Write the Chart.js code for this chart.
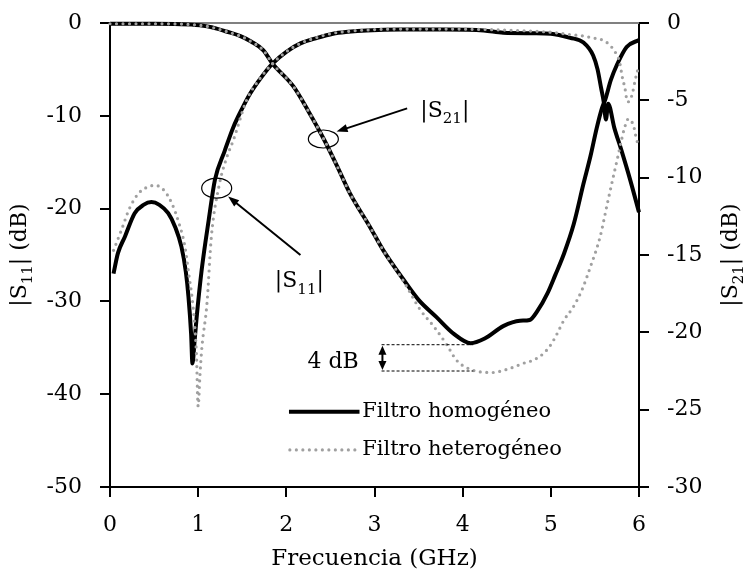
<!DOCTYPE html>
<html>
<head>
<meta charset="utf-8">
<script src="https://cdn.jsdelivr.net/npm/chart.js@4.4.1/dist/chart.umd.min.js"></script>
<style>
  html, body { margin: 0; padding: 0; background: #fff; }
</style>
</head>
<body>
<canvas id="chart" width="745" height="573"></canvas>
<script>
// |S11| filtro homogéneo (eje izquierdo, dB)
const s11HomFreq = [0.04, 0.09, 0.17, 0.28, 0.38, 0.47, 0.56, 0.66, 0.74, 0.81, 0.86, 0.89, 0.92, 0.935, 0.96, 0.98, 1.04, 1.12, 1.19, 1.30, 1.40, 1.50, 1.59, 1.72, 1.84, 2.00, 2.16, 2.35, 2.53, 2.70, 2.91, 3.30, 3.80, 4.24, 4.46, 4.80, 5.00, 5.22, 5.37, 5.48, 5.53, 5.57, 5.60, 5.625, 5.65, 5.72, 5.80, 5.90, 6.00];
const s11HomDb = [-27.0, -24.8, -23.0, -20.5, -19.6, -19.3, -19.6, -20.5, -22.0, -24.1, -26.8, -29.5, -33.5, -36.7, -34.2, -32.0, -26.6, -21.2, -16.9, -13.8, -11.2, -9.2, -7.6, -5.8, -4.4, -3.1, -2.2, -1.6, -1.15, -0.95, -0.8, -0.7, -0.7, -0.8, -1.05, -1.1, -1.15, -1.6, -2.1, -3.5, -5.0, -7.0, -8.5, -10.4, -8.7, -11.3, -13.7, -16.9, -20.4];

// |S11| filtro heterogéneo (eje izquierdo, dB)
const s11HetFreq = [0.04, 0.13, 0.22, 0.32, 0.42, 0.51, 0.60, 0.70, 0.78, 0.85, 0.90, 0.93, 0.96, 0.98, 1.00, 1.02, 1.04, 1.10, 1.15, 1.24, 1.32, 1.40, 1.55, 1.70, 1.84, 2.00, 2.16, 2.35, 2.53, 2.70, 2.91, 3.30, 3.80, 4.24, 4.60, 5.00, 5.22, 5.37, 5.47, 5.56, 5.62, 5.69, 5.74, 5.78, 5.81, 5.84, 5.87, 5.90, 5.93, 5.96, 6.00];
const s11HetDb = [-24.5, -22.3, -20.0, -18.4, -17.7, -17.5, -17.9, -19.4, -21.5, -24.1, -27.5, -29.5, -32.5, -35.6, -41.3, -38.0, -35.2, -30.2, -23.0, -17.4, -14.6, -12.6, -8.3, -6.0, -4.4, -3.1, -2.2, -1.55, -1.1, -0.9, -0.75, -0.65, -0.65, -0.7, -0.8, -1.0, -1.25, -1.4, -1.6, -1.75, -2.0, -2.6, -3.3, -4.2, -5.8, -7.0, -8.5, -8.3, -7.4, -6.0, -4.6];

// |S21| filtro homogéneo (eje derecho, dB)
const s21HomFreq = [0.00, 0.50, 1.02, 1.21, 1.32, 1.48, 1.60, 1.74, 1.84, 2.08, 2.25, 2.42, 2.58, 2.72, 2.95, 3.10, 3.33, 3.50, 3.70, 3.90, 4.09, 4.25, 4.46, 4.65, 4.76, 4.85, 4.96, 5.05, 5.15, 5.26, 5.37, 5.45, 5.52, 5.58, 5.62, 5.68, 5.75, 5.86, 6.00];
const s21HomDb = [-0.05, -0.05, -0.15, -0.36, -0.55, -0.85, -1.2, -1.77, -2.6, -4.1, -5.7, -7.45, -9.3, -11.0, -13.2, -14.7, -16.6, -17.9, -19.0, -20.1, -20.7, -20.4, -19.6, -19.25, -19.2, -18.6, -17.5, -16.3, -14.9, -13.0, -10.4, -8.6, -6.8, -5.5, -4.9, -3.7, -2.7, -1.55, -1.1];

// |S21| filtro heterogéneo (eje derecho, dB)
const s21HetFreq = [0.00, 0.50, 1.02, 1.21, 1.32, 1.48, 1.60, 1.74, 1.84, 2.08, 2.25, 2.42, 2.58, 2.72, 2.95, 3.10, 3.33, 3.52, 3.67, 3.82, 3.93, 4.09, 4.33, 4.50, 4.69, 4.80, 4.92, 5.00, 5.07, 5.15, 5.25, 5.35, 5.45, 5.56, 5.64, 5.71, 5.76, 5.80, 5.84, 5.88, 5.92, 5.95, 5.97, 6.00];
const s21HetDb = [-0.05, -0.05, -0.15, -0.36, -0.55, -0.85, -1.2, -1.77, -2.6, -4.1, -5.7, -7.45, -9.3, -11.0, -13.2, -14.7, -16.7, -18.55, -19.6, -20.8, -21.8, -22.4, -22.6, -22.4, -22.0, -21.8, -21.35, -20.8, -20.1, -19.2, -18.4, -17.3, -15.75, -13.8, -11.7, -9.9, -8.65, -7.6, -6.7, -6.2, -6.4, -6.9, -7.5, -7.9];

const xTicks = [0, 1, 2, 3, 4, 5, 6];
const legendLabels = ["Filtro homogéneo", "Filtro heterogéneo"];

const FONT = '"DejaVu Serif", serif';
const GRAY = "#a0a0a0";

function toPoints(xs, ys) {
    return xs.map((x, i) => ({ x: x, y: ys[i] }));
}

// text with subscript pieces, e.g. |S + 21 + |
function drawParts(ctx, x, y, parts, size, align) {
    const subSize = Math.round(size * 0.68);
    const widths = parts.map(p => {
        ctx.font = (p.sub ? subSize : size) + "px " + FONT;
        return ctx.measureText(p.t).width;
    });
    const total = widths.reduce((a, b) => a + b, 0);
    let cx = align === "center" ? x - total / 2 : align === "right" ? x - total : x;
    ctx.textAlign = "left";
    ctx.textBaseline = "alphabetic";
    parts.forEach((p, i) => {
        ctx.font = (p.sub ? subSize : size) + "px " + FONT;
        ctx.fillText(p.t, cx, p.sub ? y + size * 0.28 : y);
        cx += widths[i];
    });
}

function arrowHead(ctx, x0, y0, x1, y1, len, half) {
    const a = Math.atan2(y1 - y0, x1 - x0);
    ctx.beginPath();
    ctx.moveTo(x1, y1);
    ctx.lineTo(x1 - len * Math.cos(a) + half * Math.sin(a), y1 - len * Math.sin(a) - half * Math.cos(a));
    ctx.lineTo(x1 - len * Math.cos(a) - half * Math.sin(a), y1 - len * Math.sin(a) + half * Math.cos(a));
    ctx.closePath();
    ctx.fill();
}

function arrow(ctx, x0, y0, x1, y1) {
    const a = Math.atan2(y1 - y0, x1 - x0);
    ctx.beginPath();
    ctx.moveTo(x0, y0);
    ctx.lineTo(x1 - 8 * Math.cos(a), y1 - 8 * Math.sin(a));
    ctx.stroke();
    arrowHead(ctx, x0, y0, x1, y1, 11, 4);
}

const annotationsPlugin = {
    id: "annotations",
    beforeDatasetsDraw(chart) {
        const { ctx, chartArea: a } = chart;
        ctx.save();
        ctx.strokeStyle = "#808080";
        ctx.lineWidth = 2;
        ctx.beginPath();
        ctx.moveTo(a.left, a.top);
        ctx.lineTo(a.right, a.top);
        ctx.stroke();
        ctx.restore();
    },
    afterDraw(chart) {
        const { ctx, chartArea: a } = chart;
        const px = v => chart.scales.x.getPixelForValue(v);
        const pl = v => chart.scales.y.getPixelForValue(v);
        const pr = v => chart.scales.y1.getPixelForValue(v);
        ctx.save();
        ctx.fillStyle = "#000";
        ctx.strokeStyle = "#000";

        // axis titles
        const midY = (a.top + a.bottom) / 2;
        ctx.save();
        ctx.translate(26, midY);
        ctx.rotate(-Math.PI / 2);
        drawParts(ctx, 0, 0, [{ t: "|S" }, { t: "11", sub: true }, { t: "| (dB)" }], 22, "center");
        ctx.restore();
        ctx.save();
        ctx.translate(737, midY);
        ctx.rotate(-Math.PI / 2);
        drawParts(ctx, 0, 0, [{ t: "|S" }, { t: "21", sub: true }, { t: "| (dB)" }], 22, "center");
        ctx.restore();
        ctx.font = "23px " + FONT;
        ctx.textAlign = "center";
        ctx.textBaseline = "middle";
        ctx.fillText("Frecuencia (GHz)", (a.left + a.right) / 2, 559);

        // ellipses + arrows + labels
        ctx.lineWidth = 1.2;
        ctx.beginPath();
        ctx.ellipse(px(2.42), pl(-12.5), 15, 9, 0, 0, Math.PI * 2);
        ctx.stroke();
        ctx.beginPath();
        ctx.ellipse(px(1.21), pl(-17.8), 15, 10, 0, 0, Math.PI * 2);
        ctx.stroke();
        ctx.lineWidth = 2;
        arrow(ctx, px(3.37), pl(-9.2), px(2.57), pl(-11.7));
        arrow(ctx, px(2.16), pl(-25.0), px(1.34), pl(-18.7));
        drawParts(ctx, px(3.52), pl(-10.1), [{ t: "|S" }, { t: "21", sub: true }, { t: "|" }], 22, "left");
        drawParts(ctx, px(1.87), pl(-28.5), [{ t: "|S" }, { t: "11", sub: true }, { t: "|" }], 22, "left");

        // 4 dB marker
        ctx.lineWidth = 1;
        ctx.setLineDash([3, 2]);
        [-20.8, -22.5].forEach(v => {
            ctx.beginPath();
            ctx.moveTo(px(3.08), pr(v));
            ctx.lineTo(px(4.12), pr(v));
            ctx.stroke();
        });
        ctx.setLineDash([]);
        const ax = px(3.09), yTop = pr(-20.8), yBot = pr(-22.5);
        ctx.lineWidth = 2;
        ctx.beginPath();
        ctx.moveTo(ax, yTop + 5);
        ctx.lineTo(ax, yBot - 5);
        ctx.stroke();
        arrowHead(ctx, ax, yBot, ax, yTop + 1, 9, 4);
        arrowHead(ctx, ax, yTop, ax, yBot - 1, 9, 4);
        ctx.font = "22px " + FONT;
        ctx.textAlign = "right";
        ctx.textBaseline = "alphabetic";
        ctx.fillText("4 dB", px(2.82), pl(-37.2));

        // legend
        const ly1 = pl(-41.9), ly2 = pl(-46.0);
        ctx.lineWidth = 4;
        ctx.beginPath();
        ctx.moveTo(px(2.03), ly1);
        ctx.lineTo(px(2.83), ly1);
        ctx.stroke();
        ctx.strokeStyle = GRAY;
        ctx.lineWidth = 3.2;
        ctx.lineCap = "round";
        ctx.setLineDash([0, 6.5]);
        ctx.beginPath();
        ctx.moveTo(px(2.04), ly2);
        ctx.lineTo(px(2.78), ly2);
        ctx.stroke();
        ctx.setLineDash([]);
        ctx.font = "21px " + FONT;
        ctx.textAlign = "left";
        ctx.textBaseline = "middle";
        ctx.fillStyle = "#000";
        ctx.fillText(legendLabels[0], px(2.86), ly1);
        ctx.fillText(legendLabels[1], px(2.86), ly2);
        ctx.restore();
    }
};

const solid = { borderColor: "#000", borderWidth: 4, order: 2 };
const dotted = { borderColor: GRAY, borderWidth: 3.2, borderDash: [0, 6.5], borderCapStyle: "round", order: 1 };

const axisLine = {
    grid: { drawOnChartArea: false, drawTicks: true, tickLength: 10, color: "#000", lineWidth: 2 },
    border: { display: true, color: "#000", width: 2 }
};

// fixed box sizes so the plot area lands where the original has it
function fitVertical(width) {
    return s => {
        s.width = width;
        s.paddingTop = 0;
        s.paddingBottom = 0;
    };
}

new Chart(document.getElementById("chart").getContext("2d"), {
    type: "scatter",
    data: {
        datasets: [
            { label: "S11 " + legendLabels[0], data: toPoints(s11HomFreq, s11HomDb), yAxisID: "y", ...solid },
            { label: "S11 " + legendLabels[1], data: toPoints(s11HetFreq, s11HetDb), yAxisID: "y", ...dotted },
            { label: "S21 " + legendLabels[0], data: toPoints(s21HomFreq, s21HomDb), yAxisID: "y1", ...solid },
            { label: "S21 " + legendLabels[1], data: toPoints(s21HetFreq, s21HetDb), yAxisID: "y1", ...dotted }
        ].map(d => ({ ...d, showLine: true, pointRadius: 0, cubicInterpolationMode: "monotone", clip: 4 }))
    },
    options: {
        responsive: false,
        animation: false,
        layout: { padding: { top: 23, left: 0, right: 0, bottom: 0 } },
        plugins: { legend: { display: false }, tooltip: { enabled: false } },
        scales: {
            x: {
                type: "linear", min: 0, max: 6,
                afterBuildTicks: s => { s.ticks = xTicks.map(v => ({ value: v })); },
                ticks: { color: "#000", font: { family: FONT, size: 22 }, padding: 15, maxRotation: 0 },
                afterFit: s => { s.height = 86; },
                ...axisLine
            },
            y: {
                position: "left", min: -50, max: 0,
                ticks: { stepSize: 10, color: "#000", font: { family: FONT, size: 22 }, padding: 18 },
                afterFit: fitVertical(110),
                ...axisLine
            },
            y1: {
                position: "right", min: -30, max: 0,
                ticks: { stepSize: 5, color: "#000", font: { family: FONT, size: 22 }, padding: 18 },
                afterFit: fitVertical(106),
                ...axisLine
            }
        }
    },
    plugins: [annotationsPlugin]
});
</script>
</body>
</html>
